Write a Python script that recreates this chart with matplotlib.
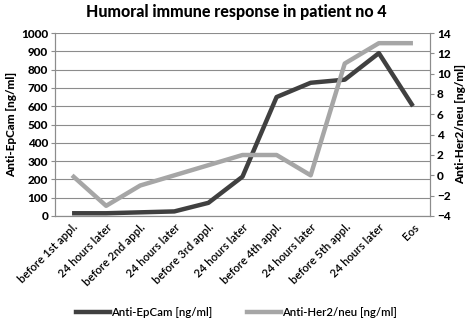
import matplotlib
matplotlib.use("Agg")
import matplotlib.pyplot as plt
from matplotlib.lines import Line2D

categories = ["before 1st appl.", "24 hours later", "before 2nd appl.", "24 hours later",
              "before 3rd appl.", "24 hours later", "before 4th appl.", "24 hours later",
              "before 5th appl.", "24 hours later", "Eos"]
epcam = [15, 15, 20, 25, 72, 215, 650, 728, 745, 890, 600]
her2 = [0, -3, -1, 0, 1, 2, 2, 0, 11, 13, 13]

plt.rcParams['font.family'] = ['Lato', 'DejaVu Sans']
dark = "#404040"
light = "#a6a6a6"
grid = "#8c8c8c"

fig = plt.figure(figsize=(4.73, 3.26), dpi=100)
ax = fig.add_axes([55/473, 1-216/326, 375/473, 183/326])
ax2 = ax.twinx()
x = list(range(len(categories)))
ax.plot(x, epcam, color=dark, lw=3.2, solid_capstyle='butt', zorder=3)
ax2.plot(x, her2, color=light, lw=3.2, solid_capstyle='butt', zorder=3)

ax.set_xlim(-0.5, len(categories) - 0.5)
ax.set_ylim(0, 1000)
ax.set_yticks(range(0, 1001, 100))
ax2.set_ylim(-4, 14)
ax2.set_yticks(range(-4, 15, 2))
ax.yaxis.grid(True, color=grid, lw=0.8)
ax.set_axisbelow(True)
ax.set_xticks(x)
ax.set_xticklabels(categories, rotation=45, ha='right', rotation_mode='anchor', fontsize=8.2,
                   fontweight=600)
ax.tick_params(axis='x', length=0, pad=4)
ax.tick_params(axis='y', labelsize=8.5, length=3, color=grid, pad=2)
ax2.tick_params(axis='y', labelsize=8.5, length=3, color=grid, pad=2)
for a in (ax, ax2):
    a.spines['top'].set_visible(False)
    for s in ('left', 'right', 'bottom'):
        a.spines[s].set_color(grid)
        a.spines[s].set_linewidth(0.8)
for lab in ax.get_yticklabels() + ax2.get_yticklabels():
    lab.set_fontweight(900)

ax.set_ylabel("Anti-EpCam [ng/ml]", fontsize=8.5, fontweight=900, labelpad=3)
ax2.set_ylabel("Anti-Her2/neu [ng/ml]", fontsize=8.5, fontweight=900, labelpad=3)
fig.text(0.5, 1-12/326, "Humoral immune response in patient no 4", ha='center', va='center',
         fontsize=11.5, fontweight=900)

handles = [Line2D([], [], color=dark, lw=3.2), Line2D([], [], color=light, lw=3.2)]
fig.legend(handles, ["Anti-EpCam [ng/ml]", "Anti-Her2/neu [ng/ml]"], loc='center',
           bbox_to_anchor=(0.5, 1-312/326), ncol=2, frameon=False,
           prop={'size': 8.2, 'weight': 600},
           handlelength=3, handletextpad=0.1, columnspacing=3)

fig.savefig("out.png", dpi=100)
